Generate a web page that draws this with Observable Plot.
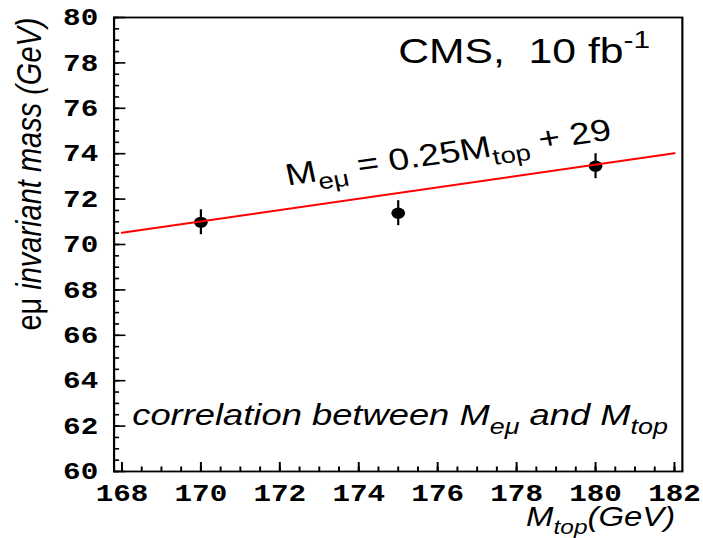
<!DOCTYPE html>
<html><head><meta charset="utf-8">
<script src="https://cdn.jsdelivr.net/npm/d3@7"></script>
<script src="https://cdn.jsdelivr.net/npm/@observablehq/plot@0.6"></script>
<style>
html,body{margin:0;padding:0;background:#fff;overflow:hidden}
#chart svg{display:block;transform-origin:0 0}
#chart svg text{white-space:pre}
</style>
</head><body><div id="chart"></div>
<script>
// ---- data ----
const mtop = [170, 175, 180];
const meu = [70.98, 71.38, 73.45];
const meuErr = [0.55, 0.55, 0.55];
const fitX = [168, 182];
const fitY = [70.52, 74.02];
const xTickValues = [168, 170, 172, 174, 176, 178, 180, 182];
const yTickValues = [60, 62, 64, 66, 68, 70, 72, 74, 76, 78, 80];
const noteText = ["CMS,\u00a0\u00a010 fb^{-1}", "M_{eμ} = 0.25M_{top} + 29", "correlation between M_{eμ} and M_{top}"];
const noteX = [175.0, 172.2, 168.26];
const noteY = [78.0, 72.6, 62.03];
const xTitle = ["M_{top}(GeV)"];
const xTitleX = [182.02];
const xTitleY = [57.58];
const yTitle = ["~{eμ} invariant mass (GeV)"];
const yTitleX = [165.94];
const yTitleY = [80];

// ---- derived tables ----
const points = mtop.map((x, i) => ({x, y: meu[i], e: meuErr[i]}));
const fit = fitX.map((x, i) => ({x, y: fitY[i]}));
const notes = noteText.map((t, i) => ({t, x: noteX[i], y: noteY[i]}));
const xt = xTitle.map((t, i) => ({t, x: xTitleX[i], y: xTitleY[i]}));
const yt = yTitle.map((t, i) => ({t, x: yTitleX[i], y: yTitleY[i]}));
const xMinor = d3.range(168, 182.001, 0.5);
const yMinor = d3.range(60, 80.001, 0.5);

const S = 1.22;           // horizontal stretch of the reference rendering
const W = 703 / S;
const sans = "Liberation Sans, Arial, Helvetica, sans-serif";
const mono = "Liberation Mono, Courier New, monospace";

const chart = Plot.plot({
  width: W,
  height: 538,
  marginLeft: 93,
  marginRight: 17.4,
  marginTop: 17,
  marginBottom: 67,
  style: {background: "white", fontFamily: sans, color: "black", overflow: "visible"},
  x: {domain: [167.8, 182.2]},
  y: {domain: [60, 80]},
  marks: [
    Plot.axisX(xMinor, {anchor: "bottom", tickSize: -4.5, strokeWidth: 1.6, fill: "none", label: null}),
    Plot.axisX(xTickValues, {anchor: "bottom", tickSize: -9, strokeWidth: 1.6, fill: "none", label: null}),
    Plot.axisX(xTickValues, {anchor: "bottom", tickSize: 0, tickPadding: 12, fontSize: 24, fontWeight: "bold",
      fontFamily: mono, tickFormat: d => String(d), label: null, ariaLabel: "xticklabels"}),
    Plot.axisY(yMinor, {anchor: "left", tickSize: -4.6, strokeWidth: 1.6, fill: "none", label: null}),
    Plot.axisY(yTickValues, {anchor: "left", tickSize: -9.8, strokeWidth: 1.6, fill: "none", label: null}),
    Plot.axisY(yTickValues, {anchor: "left", tickSize: 0, tickPadding: 13, fontSize: 24, fontWeight: "bold",
      fontFamily: mono, tickFormat: d => String(d), label: null, ariaLabel: "yticklabels"}),
    Plot.frame({stroke: "black", strokeWidth: 1.8}),
    Plot.ruleX(points, {x: "x", y1: d => d.y - d.e, y2: d => d.y + d.e, stroke: "black", strokeWidth: 1.8}),
    Plot.dot(points, {x: "x", y: "y", r: 5.6, fill: "black", stroke: null}),
    Plot.line(fit, {x: "x", y: "y", stroke: "#ff0000", strokeWidth: 2}),
    Plot.text(notes.slice(0, 1), {x: "x", y: "y", text: "t", textAnchor: "start", lineAnchor: "bottom", fontSize: 35, fill: "black"}),
    Plot.text(notes.slice(1, 2), {x: "x", y: "y", text: "t", textAnchor: "start", lineAnchor: "bottom", fontSize: 30.5, rotate: -9.8, fill: "black"}),
    Plot.text(notes.slice(2, 3), {x: "x", y: "y", text: "t", textAnchor: "start", lineAnchor: "bottom", fontSize: 29.8, fontStyle: "italic", fill: "black"}),
    Plot.text(xt, {x: "x", y: "y", text: "t", textAnchor: "end", lineAnchor: "bottom", fontSize: 27, fontStyle: "italic", fill: "black", ariaLabel: "xtitle"}),
    Plot.text(yt, {x: "x", y: "y", text: "t", textAnchor: "end", lineAnchor: "bottom", fontSize: 29, fontStyle: "italic", rotate: -90, fill: "black", ariaLabel: "ytitle"})
  ]
});

document.getElementById("chart").appendChild(chart);
chart.style.transform = `scaleX(${S})`;

// rich text: _{sub}, ^{sup}, ~{upright}
const NS = "http://www.w3.org/2000/svg";
function richify(el, drop) {
  const s = el.textContent;
  if (!/[_^~]\{/.test(s)) return;
  const F = parseFloat(getComputedStyle(el).fontSize);
  el.textContent = "";
  const re = /([_^~])\{([^}]*)\}|([^_^~]+)/g;
  let m, off = 0;
  while ((m = re.exec(s))) {
    const t = document.createElementNS(NS, "tspan");
    let target = 0;
    if (m[1] === "_") { t.textContent = m[2]; t.setAttribute("font-size", 0.74 * F); target = drop * F; }
    else if (m[1] === "^") { t.textContent = m[2]; t.setAttribute("font-size", 0.7 * F); target = -0.42 * F; }
    else if (m[1] === "~") { t.textContent = m[2]; t.setAttribute("font-style", "normal"); }
    else t.textContent = m[3];
    if (target !== off) { t.setAttribute("dy", target - off); off = target; }
    el.appendChild(t);
  }
}
chart.querySelectorAll('g[aria-label="xtitle"] text').forEach(t => richify(t, 0.4));
chart.querySelectorAll("text").forEach(t => richify(t, 0.28));
chart.querySelectorAll('g[aria-label="xticklabels"] text, g[aria-label="yticklabels"] text').forEach(t => {
  t.setAttribute("letter-spacing", "2");
});
</script></body></html>
